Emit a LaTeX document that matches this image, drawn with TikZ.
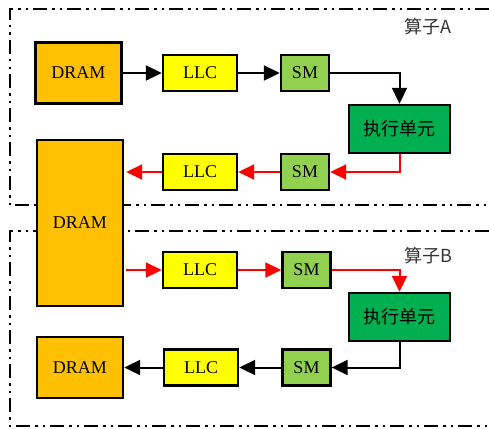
\documentclass[tikz,border=0pt]{standalone}
\usepackage{fontspec}
\setmainfont{Liberation Serif}
\newfontfamily\cjk{Noto Sans CJK SC}
\usetikzlibrary{arrows.meta}
\definecolor{dramc}{HTML}{FFC000}
\definecolor{llcc}{HTML}{FFFF00}
\definecolor{smc}{HTML}{92D050}
\definecolor{exc}{HTML}{00B050}
\begin{document}
\begin{tikzpicture}[x=1pt,y=-1pt,
  box/.style={draw=black, line width=2.4pt, inner sep=0pt, font=\fontsize{18}{20}\selectfont},
  dramb/.style={box, fill=dramc, minimum width=86pt},
  llcb/.style={box, fill=llcc, minimum width=74pt, minimum height=36pt},
  smb/.style={box, fill=smc, minimum width=48pt, minimum height=36pt},
  exb/.style={box, fill=exc, minimum width=101pt, minimum height=48pt, font=\fontsize{18}{20}\selectfont\cjk},
  frame/.style={line width=2.4pt, dash pattern=on 14pt off 5pt on 2.5pt off 5pt on 2.5pt off 5pt},
  arr/.style={line width=2pt, -{Triangle[length=16pt,width=15pt]}},
  blk/.style={arr, draw=black},
  rd/.style={arr, draw=red, -{Triangle[length=16pt,width=15pt,fill=red]}},
  lbl/.style={font=\fontsize{18}{20}\selectfont\cjk, inner sep=0pt, text=black!80}]
\useasboundingbox (0,0) rectangle (489,428);
% frames
\draw[frame] (489,9) -- (10,9) -- (10,205) -- (489,205);
\draw[frame] (489,231) -- (10,231) -- (10,426) -- (489,426);
% labels
\node[lbl] (la) at (428,27) {算子A};
\node[lbl] (lb) at (428,256) {算子B};
% nodes
\node[dramb, minimum height=61pt] (d1) at (78.5,73) {DRAM};
\node[llcb] (l1) at (200,73) {LLC};
\node[smb] (s1) at (305,73) {SM};
\node[exb] (e1) at (399.5,129) {执行单元};
\node[dramb, minimum height=166pt] (d2) at (80,223) {DRAM};
\node[llcb] (l2) at (200,172) {LLC};
\node[smb] (s2) at (305,172) {SM};
\node[llcb] (l3) at (200,270) {LLC};
\node[smb] (s3) at (306.5,270) {SM};
\node[exb] (e2) at (399.5,317) {执行单元};
\node[dramb, minimum height=61pt] (d3) at (80,367.5) {DRAM};
\node[llcb] (l4) at (201,367.5) {LLC};
\node[smb] (s4) at (306.5,367.5) {SM};
% connectors
\draw[blk] (d1) -- (l1);
\draw[blk] (l1) -- (s1);
\draw[blk] (s1.east) -| (e1.north);
\draw[rd] (e1.south) |- (s2.east);
\draw[rd] (s2) -- (l2);
\draw[rd] (l2.west) -- ([xshift=2pt]d2.east |- l2.west);
\draw[rd] ([xshift=2pt]d2.east |- l3.west) -- (l3.west);
\draw[rd] (l3) -- (s3);
\draw[rd] (s3.east) -| (e2.north);
\draw[blk] (e2.south) |- (s4.east);
\draw[blk] (s4) -- (l4);
\draw[blk] (l4) -- (d3);
\end{tikzpicture}
\end{document}
